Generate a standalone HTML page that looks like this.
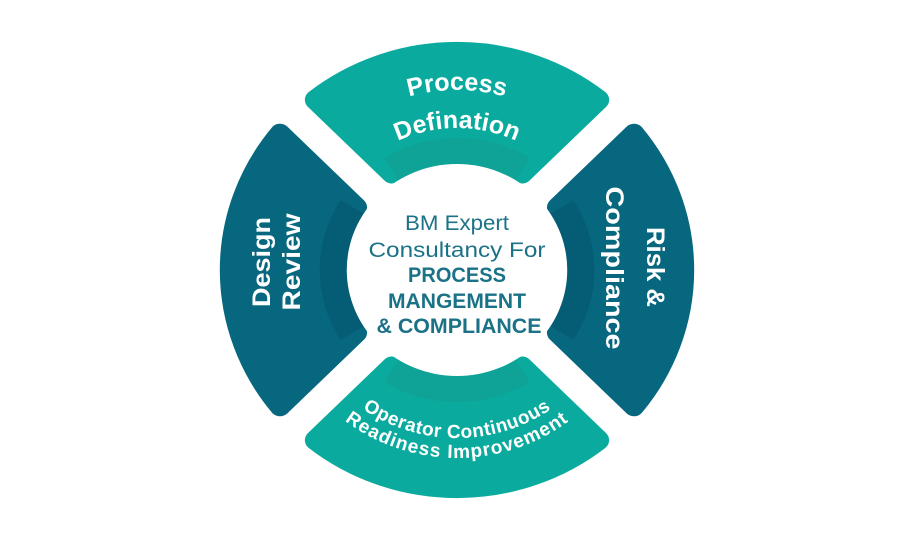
<!DOCTYPE html>
<html><head><meta charset="utf-8"><style>
html,body{margin:0;padding:0;background:#fff;}
svg{display:block;}
text{font-family:"Liberation Sans",sans-serif;}
</style></head><body>
<svg width="915" height="550" viewBox="0 0 915 550" xmlns="http://www.w3.org/2000/svg">
<defs>
<path id="seg" d="M -136.3 -170.2 A 218 218 0 0 1 136.3 -170.2 L 62.6 -96.5 A 115 115 0 0 0 -62.6 -96.5 Z"/>
<path id="band" d="M -70 -112 A 132 132 0 0 1 70 -112 L 55.6 -89 A 105 105 0 0 0 -55.6 -89 Z"/>
<path id="pTop1" d="M -180 0 A 180 180 0 0 1 180 0"/>
<path id="pTop2" d="M -142 0 A 142 142 0 0 1 142 0"/>
<path id="pBot1" d="M -168 0 A 168 168 0 0 0 168 0"/>
<path id="pBot2" d="M -188 0 A 188 188 0 0 0 188 0"/>
</defs>
<g transform="translate(457,270) scale(1.04,1)">
  <g>
    <use href="#seg" fill="#0aab9e" stroke="#0aab9e" stroke-width="20" stroke-linejoin="round"/>
    <use href="#band" fill="#0ea396"/>
  </g>
  <g transform="rotate(90)">
    <use href="#seg" fill="#07677f" stroke="#07677f" stroke-width="20" stroke-linejoin="round"/>
    <use href="#band" fill="#055c75"/>
  </g>
  <g transform="rotate(180)">
    <use href="#seg" fill="#0aab9e" stroke="#0aab9e" stroke-width="20" stroke-linejoin="round"/>
    <use href="#band" fill="#0ea396"/>
  </g>
  <g transform="rotate(270)">
    <use href="#seg" fill="#07677f" stroke="#07677f" stroke-width="20" stroke-linejoin="round"/>
    <use href="#band" fill="#055c75"/>
  </g>
  <circle cx="0" cy="0" r="106" fill="#fff"/>
</g>
<g transform="translate(457,270)" fill="#fff" font-weight="bold">
  <text font-size="25"><textPath href="#pTop1" startOffset="50%" text-anchor="middle">Process</textPath></text>
  <text font-size="25"><textPath href="#pTop2" startOffset="50%" text-anchor="middle">Defination</textPath></text>
  <text font-size="19" letter-spacing="0.5"><textPath href="#pBot1" startOffset="50%" text-anchor="middle">Operator Continuous</textPath></text>
  <text font-size="19" letter-spacing="1"><textPath href="#pBot2" startOffset="50%" text-anchor="middle">Readiness Improvement</textPath></text>
</g>
<g fill="#fff" font-weight="bold" font-size="25">
  <text transform="translate(270,262) rotate(-90)" text-anchor="middle" textLength="90" lengthAdjust="spacingAndGlyphs">Design</text>
  <text transform="translate(300,262) rotate(-90)" text-anchor="middle" textLength="97" lengthAdjust="spacingAndGlyphs">Review</text>
  <text transform="translate(647,267) rotate(90)" text-anchor="middle" textLength="80" lengthAdjust="spacingAndGlyphs">Risk &amp;</text>
  <text transform="translate(606,268) rotate(90)" text-anchor="middle" textLength="163" lengthAdjust="spacingAndGlyphs">Compliance</text>
</g>
<g fill="#1b7287" text-anchor="middle">
  <text x="457" y="230" font-size="21" textLength="104" lengthAdjust="spacingAndGlyphs">BM Expert</text>
  <text x="457" y="257" font-size="21" textLength="177" lengthAdjust="spacingAndGlyphs">Consultancy For</text>
  <text x="457" y="282" font-size="21" font-weight="bold" textLength="98" lengthAdjust="spacingAndGlyphs">PROCESS</text>
  <text x="457" y="308" font-size="21" font-weight="bold" textLength="138" lengthAdjust="spacingAndGlyphs">MANGEMENT</text>
  <text x="459" y="333" font-size="21" font-weight="bold" textLength="165" lengthAdjust="spacingAndGlyphs">&amp; COMPLIANCE</text>
</g>
</svg>
</body></html>
